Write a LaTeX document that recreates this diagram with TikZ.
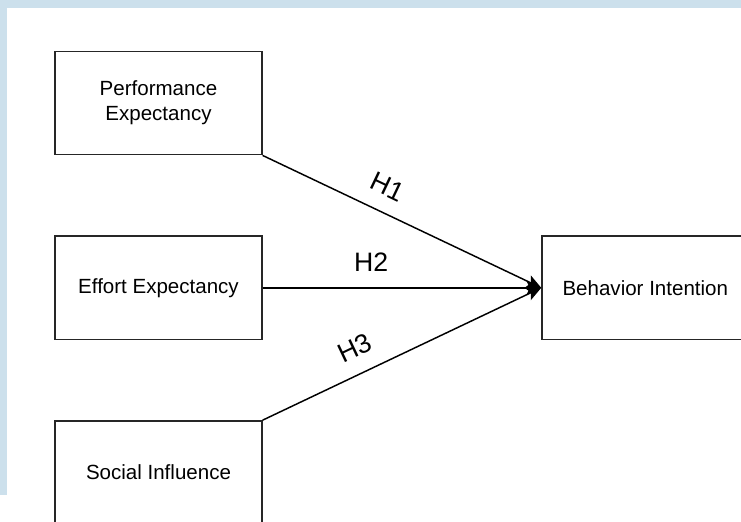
\documentclass[tikz,border=0pt]{standalone}
\usepackage{fontspec}
\setmainfont{Liberation Sans}
\usetikzlibrary{arrows.meta,positioning}
\definecolor{wmblue}{RGB}{204,224,236}

\begin{document}
\begin{tikzpicture}[
    x=0.75pt, y=-0.75pt,
    every node/.style={font=\fontsize{15.4}{18.5}\selectfont},
    factor/.style={
        rectangle,
        draw=black!85,
        line width=1.1pt,
        align=center,
        minimum width=155pt,
        minimum height=77.5pt,
        inner sep=2pt
    },
    hyp/.style={font=\fontsize{20}{24}\selectfont, above=9.5pt, inner sep=2pt},
    arrow/.style={-{Stealth[length=11pt, width=10pt, inset=2.5pt]}, line width=1.1pt}
]

% background strips
\clip (0,0) rectangle (741,521);
\fill[wmblue] (0,0) rectangle (741,521);
\fill[white] (7,8) rectangle (741,521);
\fill[white] (0,495) rectangle (7,521);

\node[factor] (pe) at (158.5,103) {Performance\\Expectancy};
\node[factor, below=60pt of pe] (ee) {Effort Expectancy};
\node[factor, below=60pt of ee] (si) {Social Influence};
\node[factor, right=209pt of ee] (bi) {Behavior Intention};

\draw[arrow] (pe.south east) -- node[hyp, sloped, pos=0.41]{H1} (bi.west);
\draw[arrow] (ee) -- node[hyp, pos=0.39]{H2} (bi);
\draw[arrow] (si.north east) -- node[hyp, sloped, pos=0.37]{H3} (bi.west);

\end{tikzpicture}
\end{document}
